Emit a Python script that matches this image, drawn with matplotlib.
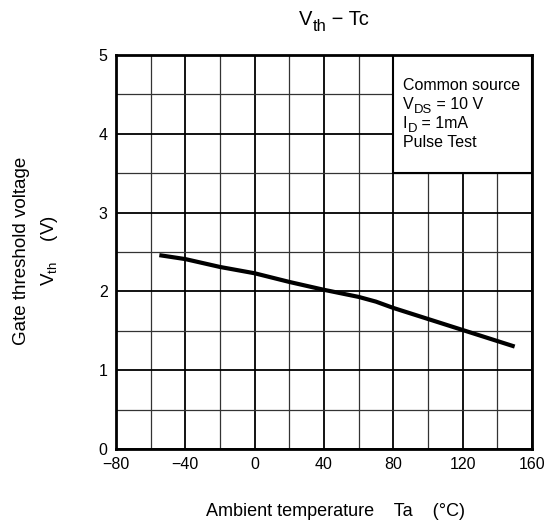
import matplotlib
matplotlib.use("Agg")
import matplotlib.pyplot as plt
from matplotlib.patches import Rectangle
from matplotlib.ticker import MultipleLocator

plt.rcParams['font.family'] = ['Liberation Sans', 'DejaVu Sans']
plt.rcParams['mathtext.fontset'] = 'custom'
plt.rcParams['mathtext.rm'] = 'Liberation Sans'
plt.rcParams['mathtext.it'] = 'Liberation Sans'

temp = [-55, -40, -20, -10, 0, 20, 40, 60, 70, 80, 100, 120, 140, 150]
vth = [2.46, 2.41, 2.31, 2.27, 2.23, 2.12, 2.02, 1.93, 1.87, 1.79, 1.65, 1.51, 1.37, 1.30]
xticks = [-80, -40, 0, 40, 80, 120, 160]
xticklabels = ['\u221280', '\u221240', '0', '40', '80', '120', '160']
yticks = [0, 1, 2, 3, 4, 5]

W, H = 553, 526
fig = plt.figure(figsize=(W / 100, H / 100), dpi=100)
l, r, t, b = 116, 532, 55, 449
ax = fig.add_axes([l / W, 1 - b / H, (r - l) / W, (b - t) / H])
ax.set_xlim(-80, 160)
ax.set_ylim(0, 5)

ax.xaxis.set_minor_locator(MultipleLocator(20))
ax.yaxis.set_minor_locator(MultipleLocator(0.5))
ax.set_xticks(xticks)
ax.set_xticklabels(xticklabels)
ax.set_yticks(yticks)
ax.grid(which='major', color='black', linewidth=1.3)
ax.grid(which='minor', color='#333333', linewidth=0.9)
ax.tick_params(which='both', length=0, labelsize=11.5, pad=6)
for s in ax.spines.values():
    s.set_linewidth(2)
ax.set_axisbelow(True)

ax.add_patch(Rectangle((80, 3.5), 80, 1.5, facecolor='white', edgecolor='black',
                       linewidth=1.5, zorder=2))

ax.plot(temp, vth, color='black', linewidth=3, zorder=4, solid_capstyle='butt')

renderer = fig.canvas.get_renderer()


def rich(x_px, y_px, parts, fs, center=False):
    """parts: list of (text, is_sub); x_px/y_px from top-left, baseline."""
    objs = []
    x = 0.0
    for txt, sub in parts:
        size = fs * 0.82 if sub else fs
        dy = -fs * 0.28 * 100 / 72 if sub else 0
        o = fig.text(0, 0, txt, fontsize=size, ha='left', va='baseline', zorder=5)
        w = o.get_window_extent(renderer).width
        objs.append((o, x, dy))
        x += w
    x0 = x_px - x / 2 if center else x_px
    for o, xo, dy in objs:
        o.set_position(((x0 + xo) / W, (H - y_px + dy) / H))


fs_leg = 11.5
rich(403, 90, [('Common source', False)], fs_leg)
rich(403, 109, [('V', False), ('DS', True), (' = 10 V', False)], fs_leg)
rich(403, 128, [('I', False), ('D', True), (' = 1mA', False)], fs_leg)
rich(403, 147, [('Pulse Test', False)], fs_leg)

rich(334, 25, [('V', False), ('th', True), (' \u2212 Tc', False)], 14.5, center=True)

fig.text(335 / W, 1 - 512 / H, 'Ambient temperature    Ta    (\u00b0C)', fontsize=13, ha='center', va='center')
fig.text(22 / W, 1 - 251 / H, 'Gate threshold voltage', fontsize=13.5, rotation=90, ha='center', va='center')
fig.text(50 / W, 1 - 251 / H, '$\\mathregular{V_{th}}$    (V)', fontsize=13.5, rotation=90, ha='center', va='center')

fig.savefig('out.png', dpi=100)
